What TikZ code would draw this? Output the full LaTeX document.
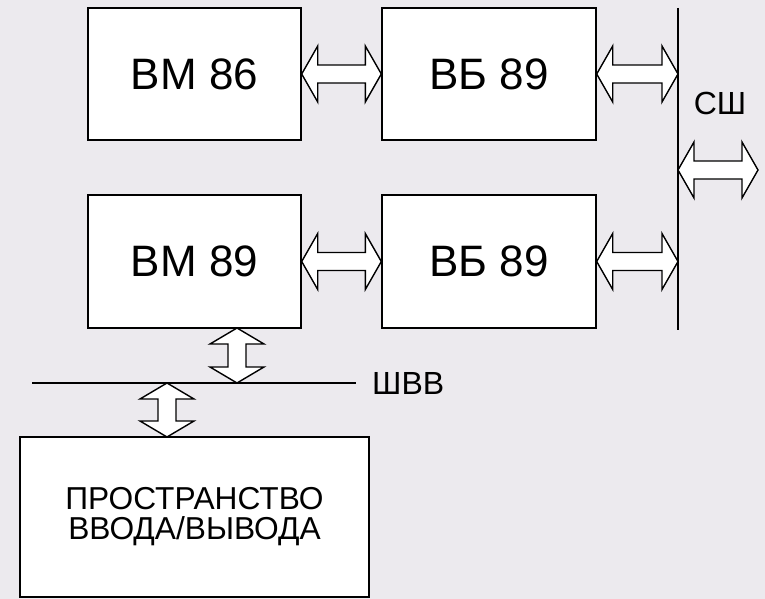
\documentclass[tikz,border=0pt]{standalone}
\usepackage{fontspec}
\setmainfont{Liberation Sans}
\usetikzlibrary{calc}
\definecolor{bgcol}{RGB}{236,234,238}
\tikzset{
  blockbox/.style={draw=black, line width=1.4pt, fill=white, inner sep=0pt},
  busline/.style={draw=black, line width=1.4pt},
  dblarrow/.style={draw=black, line width=1.4pt, fill=white, line join=miter},
  lbl/.style={inner sep=0pt, text=black}
}
\newcommand{\harrow}[2]{%
  \draw[dblarrow] let \p1=(#1), \p2=(#2) in
    (\x1,\y1) -- (\x1+16pt,\y1+28pt) -- (\x1+16pt,\y1+9pt) -- (\x2-16pt,\y1+9pt)
    -- (\x2-16pt,\y1+28pt) -- (\x2,\y1) -- (\x2-16pt,\y1-28pt) -- (\x2-16pt,\y1-9pt)
    -- (\x1+16pt,\y1-9pt) -- (\x1+16pt,\y1-28pt) -- cycle;}
\newcommand{\varrow}[2]{%
  \draw[dblarrow] let \p1=(#1), \p2=(#2) in
    (\x1,\y1) -- (\x1+27pt,\y1-16pt) -- (\x1+9pt,\y1-16pt) -- (\x1+9pt,\y2+16pt)
    -- (\x1+27pt,\y2+16pt) -- (\x1,\y2) -- (\x1-27pt,\y2+16pt) -- (\x1-9pt,\y2+16pt)
    -- (\x1-9pt,\y1-16pt) -- (\x1-27pt,\y1-16pt) -- cycle;}
\begin{document}
\begin{tikzpicture}[x=1pt,y=-1pt]
\fill[bgcol] (0,0) rectangle (765,599);
\useasboundingbox (0,0) rectangle (765,599);

\node[blockbox, minimum width=213pt, minimum height=132pt, font=\fontsize{44}{50}\selectfont] (bm86) at (194.5,74) {ВМ 86};
\node[blockbox, minimum width=214pt, minimum height=132pt, font=\fontsize{44}{50}\selectfont] (bb1) at (489,74) {ВБ 89};
\node[blockbox, minimum width=213pt, minimum height=133pt, font=\fontsize{44}{50}\selectfont] (bm89) at (194.5,261.5) {ВМ 89};
\node[blockbox, minimum width=214pt, minimum height=133pt, font=\fontsize{44}{50}\selectfont] (bb2) at (489,261.5) {ВБ 89};
\node[blockbox, minimum width=349pt, minimum height=160pt, font=\fontsize{31.7}{30}\selectfont, align=center] (io) at (194.5,517) {ПРОСТРАНСТВО\\ВВОДА/ВЫВОДА};

% system bus
\coordinate (busT) at (678,8);
\coordinate (busB) at (678,330);
\draw[busline] (busT) -- (busB);
\node[lbl, font=\fontsize{32}{32}\selectfont] (sh) at (720,103) {СШ};

% I/O bus
\coordinate (ioL) at (32,383);
\coordinate (ioR) at (356,383);
\draw[busline] (ioL) -- (ioR);
\node[lbl, font=\fontsize{32}{32}\selectfont, anchor=west] (shvv) at (372,383) {ШВВ};

% horizontal double arrows
\harrow{bm86.east}{bb1.west}
\harrow{bm89.east}{bb2.west}
\coordinate (b1) at (bb1.east -| busT);
\coordinate (b2) at (bb2.east -| busT);
\harrow{bb1.east}{b1}
\harrow{bb2.east}{b2}
\coordinate (swL) at (678,170);
\coordinate (swR) at (758,170);
\harrow{swL}{swR}

% vertical double arrows
\coordinate (v1T) at (237,328);
\coordinate (v1B) at (v1T |- ioL);
\varrow{v1T}{v1B}
\coordinate (v2T) at (167,383);
\coordinate (v2B) at (167,437);
\varrow{v2T}{v2B}
\end{tikzpicture}
\end{document}
